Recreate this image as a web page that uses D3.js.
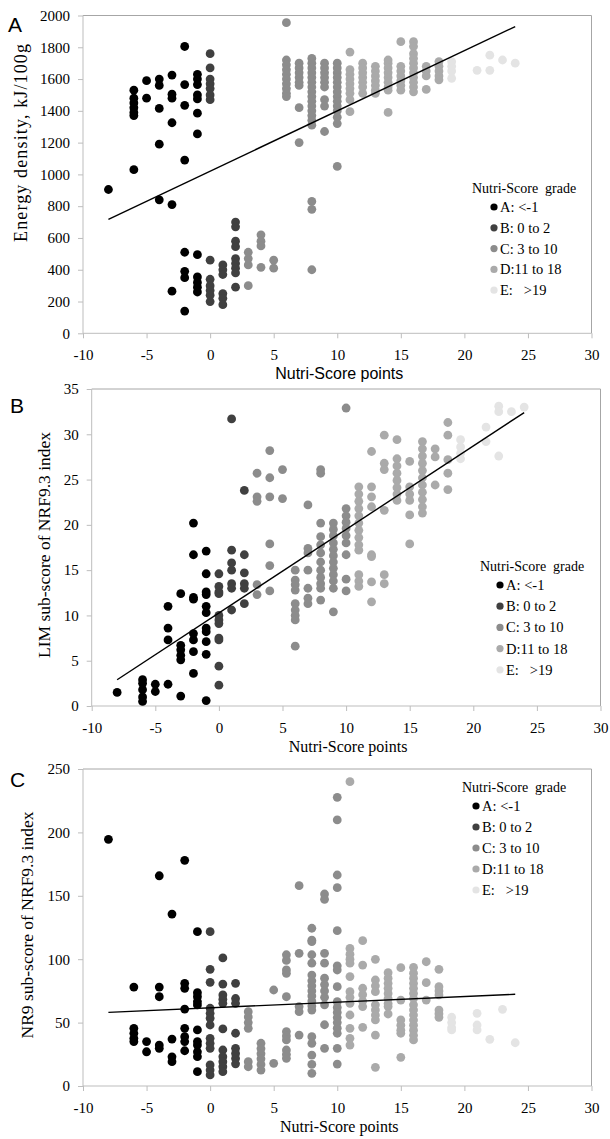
<!DOCTYPE html>
<html>
<head>
<meta charset="utf-8">
<script src="https://cdn.jsdelivr.net/npm/d3@7"></script>
<style>
  html, body { margin: 0; padding: 0; background: #fff; }
  svg { display: block; }
  text { white-space: pre; }
</style>
</head>
<body>
<svg id="chart" width="610" height="1139"></svg>
<script>
(function () {
  'use strict';

  // grades of the Nutri-Score, in drawing order
  const gradeNames = ['A: <-1', 'B: 0 to 2', 'C: 3 to 10', 'D:11 to 18', 'E:   >19'];
  const gradeColors = ['#000000', '#404040', '#8c8c8c', '#aaaaaa', '#e4e4e4'];

  const xTicks = [-10, -5, 0, 5, 10, 15, 20, 25, 30];
  const energyTicks = [0, 200, 400, 600, 800, 1000, 1200, 1400, 1600, 1800, 2000];
  const limTicks = [0, 5, 10, 15, 20, 25, 30, 35];
  const nr9Ticks = [0, 50, 100, 150, 200, 250];

  // [Nutri-Score points, [values...]]
  const energyCols = [
    [-8, [905]],
    [-6, [1530, 1480, 1450, 1420, 1390, 1370, 1030]],
    [-5, [1590, 1480]],
    [-4, [1600, 1560, 1415, 1190, 840]],
    [-3, [1625, 1505, 1480, 1325, 810, 265]],
    [-2, [1805, 1565, 1435, 1090, 510, 390, 350, 140]],
    [-1, [1630, 1600, 1565, 1500, 1475, 1385, 1255, 495, 355, 320, 290, 260]],
    [0, [1760, 1670, 1600, 1570, 1540, 1500, 1470, 460, 340, 300, 270, 240, 200]],
    [1, [430, 400, 370, 250, 220, 180]],
    [2, [700, 670, 580, 545, 470, 440, 410, 380, 290]],
    [3, [510, 470, 430, 300]],
    [4, [620, 580, 550, 415]],
    [5, [460, 410]],
    [6, [1955, 1720, 1690, 1660, 1630, 1600, 1570, 1540, 1510, 1490]],
    [7, [1700, 1670, 1640, 1610, 1580, 1560, 1420, 1200]],
    [8, [1730, 1700, 1670, 1640, 1610, 1580, 1550, 1520, 1490, 1460, 1430, 1400, 1370, 1340, 1310, 830, 780, 400]],
    [9, [1700, 1670, 1640, 1610, 1580, 1550, 1470, 1430, 1270]],
    [10, [1700, 1670, 1640, 1610, 1580, 1550, 1520, 1490, 1460, 1430, 1400, 1360, 1320, 1050]],
    [11, [1770, 1660, 1630, 1600, 1570, 1540, 1510, 1470, 1395]],
    [12, [1700, 1670, 1640, 1610, 1580, 1550, 1510]],
    [13, [1680, 1650, 1620, 1590, 1560, 1530, 1510]],
    [14, [1720, 1700, 1670, 1640, 1610, 1580, 1550, 1530, 1390]],
    [15, [1835, 1680, 1650, 1620, 1590, 1560, 1530]],
    [16, [1835, 1805, 1760, 1730, 1700, 1670, 1640, 1610, 1580, 1550, 1520]],
    [17, [1680, 1650, 1620, 1535]],
    [18, [1710, 1680, 1650, 1620, 1595]],
    [19, [1710, 1680, 1650, 1605]],
    [21, [1655]],
    [22, [1750, 1655]],
    [23, [1720]],
    [24, [1700]]
  ];

  const limCols = [
    [-8, [1.5]],
    [-6, [2.9, 2.5, 1.8, 1.0, 0.5]],
    [-5, [2.4, 1.6]],
    [-4, [11.0, 8.6, 7.3, 2.4]],
    [-3, [12.4, 6.7, 6.2, 5.6, 5.1, 1.1]],
    [-2, [20.2, 16.7, 12.0, 11.8, 8.0, 7.3, 6.0, 3.6]],
    [-1, [17.1, 14.6, 12.6, 12.3, 11.0, 10.3, 8.6, 8.2, 7.1, 5.7, 0.6]],
    [0, [14.6, 13.2, 12.6, 12.4, 10.0, 9.5, 9.1, 7.5, 7.3, 4.4, 2.3]],
    [1, [31.7, 17.2, 15.8, 15.0, 13.5, 13.0, 10.6]],
    [2, [23.8, 16.7, 14.7, 13.5, 13.0, 11.3]],
    [3, [25.7, 23.1, 22.6, 13.4, 12.3]],
    [4, [28.2, 25.2, 23.1, 17.9, 15.5, 12.7]],
    [5, [26.1, 22.9]],
    [6, [15.0, 13.9, 13.4, 12.8, 11.3, 10.6, 10.0, 9.5, 6.6]],
    [7, [22.2, 17.4, 16.9, 15.0, 13.0, 11.9, 11.3]],
    [8, [26.1, 25.7, 20.2, 18.7, 17.8, 16.9, 15.9, 15.0, 14.2, 13.5, 13.0, 11.7]],
    [9, [20.2, 19.5, 18.8, 18.0, 17.3, 16.6, 15.9, 15.2, 14.5, 13.8, 13.0, 10.4]],
    [10, [32.9, 21.8, 21.0, 20.3, 19.6, 18.8, 18.0, 16.7, 14.0, 12.7]],
    [11, [24.2, 23.4, 22.6, 21.8, 21.0, 20.2, 19.4, 18.6, 17.8, 17.2, 14.5, 13.8, 13.2]],
    [12, [28.1, 24.2, 23.1, 22.0, 16.7, 16.5, 13.7, 11.5]],
    [13, [29.9, 26.8, 26.1, 21.6, 14.5, 13.5]],
    [14, [29.4, 27.3, 26.5, 25.7, 24.9, 24.1, 23.4, 22.7]],
    [15, [27.0, 24.2, 23.4, 22.7, 21.1, 17.9]],
    [16, [29.2, 28.4, 27.6, 26.8, 26.0, 25.2, 24.4, 23.6, 22.8, 22.0, 21.3]],
    [17, [28.4, 27.5, 24.4]],
    [18, [31.3, 29.9, 27.2, 25.7, 23.9]],
    [19, [29.4, 28.6, 27.9, 27.3]],
    [21, [30.8, 29.2]],
    [22, [33.1, 32.5, 27.6]],
    [23, [32.5]],
    [24, [33.0]]
  ];

  const nr9Cols = [
    [-8, [194.5]],
    [-6, [78, 45.5, 41.6, 37.6, 35]],
    [-5, [35, 27]],
    [-4, [165.8, 78, 70.4, 32.3, 29.7]],
    [-3, [135.6, 37, 23, 19.2]],
    [-2, [178, 81, 77, 60.7, 45.5, 38.9, 35, 27.8]],
    [-1, [121.7, 73.6, 70.4, 66.5, 63.9, 44.2, 35, 32.3, 27, 23.1, 11.3]],
    [0, [121.7, 92, 81.8, 61.3, 57.3, 53.4, 48.1, 37.6, 33.7, 29.7, 16.6, 12.6, 8.7]],
    [1, [101, 80.4, 71.8, 68.5, 65.2, 45, 28.4, 23.1, 19.2, 15.2, 11.3]],
    [2, [81, 69, 65.2, 41.6, 29.7, 25.7, 21.7, 17.5]],
    [3, [58.6, 54.5, 50, 45.5, 19.2, 15.2]],
    [4, [33.7, 29.5, 25.5, 21.5, 17, 12.6]],
    [5, [75.7, 17.9]],
    [6, [103.5, 99, 91.5, 88.9, 70.4, 42.9, 39.5, 36.3, 28.4, 25, 21.8]],
    [7, [158, 104.6, 62.6, 58.6, 40.2]],
    [8, [124.4, 115, 113.8, 103.5, 96.9, 87.5, 83, 79, 75, 71, 67, 63, 59.9, 38.9, 33.7, 24.4, 17, 10]],
    [9, [151.4, 147.2, 104.6, 96.9, 85, 80, 75, 70, 64, 48.3, 29.7]],
    [10, [227.7, 209.8, 166.4, 156.4, 122.5, 94.8, 91.5, 78.3, 66.5, 62, 58, 54, 50, 45.6, 41.6, 29.7, 17.3]],
    [11, [240, 108.5, 104, 100, 96.9, 86.3, 74.4, 70, 65.2, 56, 45.5, 37.6, 32.3]],
    [12, [114.6, 95.4, 77.1, 72, 67, 62.6, 46.3]],
    [13, [99.9, 83.6, 79, 74.4, 64, 60, 56, 52.1, 40.2, 14.7]],
    [14, [89.4, 85, 81, 77, 73, 69, 65, 62.6, 56.8]],
    [15, [93.3, 67.8, 52.1, 48, 44, 41.6, 22.6]],
    [16, [93.6, 89, 85, 81, 77, 73, 69, 64, 60, 56, 52, 48, 44, 40, 36.3]],
    [17, [98, 81.5, 67.8]],
    [18, [92, 78.3, 75, 71.8, 59.9, 57, 54.2]],
    [19, [54.2, 50, 46, 44.2]],
    [21, [57.3, 48.1, 44.2]],
    [22, [36.8]],
    [23, [60.5]],
    [24, [34.1]]
  ];

  // fitted trend lines (start and end)
  const energyTrend = [[-8, 717], [24, 1930]];
  const limTrend = [[-8, 2.9], [24, 32.4]];
  const nr9Trend = [[-8, 58.1], [24, 72.3]];

  const SERIF = '"Liberation Serif", "Times New Roman", serif';
  const SANS = '"Liberation Sans", Arial, sans-serif';

  function gradeOf(x) {
    if (x <= -1) return 0;
    if (x <= 2) return 1;
    if (x <= 10) return 2;
    if (x <= 18) return 3;
    return 4;
  }

  const svg = d3.select('#chart');

  function drawPanel(cfg) {
    const g = svg.append('g');
    const x = d3.scaleLinear().domain([-10, 30]).range([cfg.left, cfg.right]);
    const y = d3.scaleLinear().domain([0, cfg.yTicks[cfg.yTicks.length - 1]]).range([cfg.bottom, cfg.top]);

    // frame: top and right border
    g.append('path')
      .attr('d', `M${cfg.left},${cfg.top}H${cfg.right}V${cfg.bottom}`)
      .attr('fill', 'none').attr('stroke', '#a6a6a6').attr('stroke-width', 1);

    const fmt = d => String(d);  // plain hyphen for negatives, like the source
    const yAxis = g.append('g')
      .attr('transform', `translate(${cfg.left},0)`)
      .call(d3.axisLeft(y).tickValues(cfg.yTicks).tickSize(5).tickPadding(8).tickFormat(fmt));
    const xAxis = g.append('g')
      .attr('transform', `translate(0,${cfg.bottom})`)
      .call(d3.axisBottom(x).tickValues(xTicks).tickSize(5).tickPadding(11).tickFormat(fmt));
    [yAxis, xAxis].forEach(ax => {
      ax.attr('font-family', SERIF).attr('font-size', 15);
      ax.select('.domain').attr('stroke', '#bdbdbd');
      ax.selectAll('.tick line').attr('stroke', '#bdbdbd');
      ax.selectAll('.tick text').attr('fill', '#000')
        .style('font-family', SERIF).style('font-size', '15px');
    });
    xAxis.select('.domain').attr('d', `M${cfg.left},0H${cfg.right}`);
    yAxis.select('.domain').attr('d', `M0,${cfg.bottom}V${cfg.top}`);

    // points, grade by grade
    const pts = [];
    cfg.cols.forEach(([px, vals]) => vals.forEach(v => pts.push({ x: px, v: v, grade: gradeOf(px) })));
    pts.sort((a, b) => a.grade - b.grade);
    g.append('g').selectAll('circle').data(pts).join('circle')
      .attr('cx', d => x(d.x)).attr('cy', d => y(d.v)).attr('r', 4.4)
      .attr('fill', d => gradeColors[d.grade]);

    // trend line
    g.append('path')
      .datum(cfg.trend)
      .attr('d', d3.line().x(d => x(d[0])).y(d => y(d[1])))
      .attr('fill', 'none').attr('stroke', '#000').attr('stroke-width', 1.4);

    // axis titles
    g.append('text')
      .attr('x', (cfg.left + cfg.right) / 2 + 2).attr('y', cfg.bottom + 46)
      .attr('text-anchor', 'middle')
      .style('font-family', cfg.xTitleFont).style('font-size', '16px')
      .text('Nutri-Score points');
    const yt = g.append('text')
      .attr('transform', `translate(${cfg.yTitleX},${cfg.yTitleY}) rotate(-90)`)
      .attr('text-anchor', 'middle')
      .style('font-family', SERIF).style('font-size', cfg.yTitleSize + 'px')
      .text(cfg.yTitle);
    if (cfg.yTitleLen) yt.attr('textLength', cfg.yTitleLen).attr('lengthAdjust', 'spacing');

    // panel letter
    g.append('text')
      .attr('x', cfg.letterX).attr('y', cfg.letterY)
      .style('font-family', SANS).style('font-size', '21px')
      .text(cfg.letter);

    // legend
    const lg = g.append('g');
    lg.append('text')
      .attr('x', cfg.legX).attr('y', cfg.legY).attr('dy', '0.35em')
      .style('font-family', SERIF).style('font-size', '14px')
      .text('Nutri-Score  grade');
    const items = lg.selectAll('g.item').data(gradeNames).join('g')
      .attr('class', 'item')
      .attr('transform', (d, i) => `translate(${cfg.legMarkX},${cfg.legY + 19 + i * cfg.legStep})`);
    items.append('circle').attr('r', 3.6).attr('fill', (d, i) => gradeColors[i]);
    items.append('text')
      .attr('x', 6).attr('dy', '0.35em')
      .style('font-family', SERIF).style('font-size', '14.5px')
      .text(d => d);
  }

  drawPanel({
    letter: 'A', letterX: 8, letterY: 32,
    left: 83, right: 591.5, top: 15.5, bottom: 333.3,
    yTicks: energyTicks, cols: energyCols, trend: energyTrend,
    yTitle: 'Energy density, kJ/100g', yTitleX: 27, yTitleY: 143, yTitleSize: 18, yTitleLen: 198,
    xTitleFont: SANS,
    legX: 472, legY: 188, legMarkX: 494, legStep: 20.8
  });

  drawPanel({
    letter: 'B', letterX: 10, letterY: 413,
    left: 91.7, right: 600.5, top: 389, bottom: 706,
    yTicks: limTicks, cols: limCols, trend: limTrend,
    yTitle: 'LIM sub-score of NRF9.3 index', yTitleX: 50, yTitleY: 545, yTitleSize: 17.5,
    xTitleFont: SERIF,
    legX: 480, legY: 566, legMarkX: 500, legStep: 21.2
  });

  drawPanel({
    letter: 'C', letterX: 10, letterY: 787,
    left: 83, right: 591.5, top: 769, bottom: 1086,
    yTicks: nr9Ticks, cols: nr9Cols, trend: nr9Trend,
    yTitle: 'NR9 sub-score of NRF9.3 index', yTitleX: 33, yTitleY: 925, yTitleSize: 17.5,
    xTitleFont: SERIF,
    legX: 462, legY: 787, legMarkX: 476, legStep: 21
  });
})();
</script>
</body>
</html>
